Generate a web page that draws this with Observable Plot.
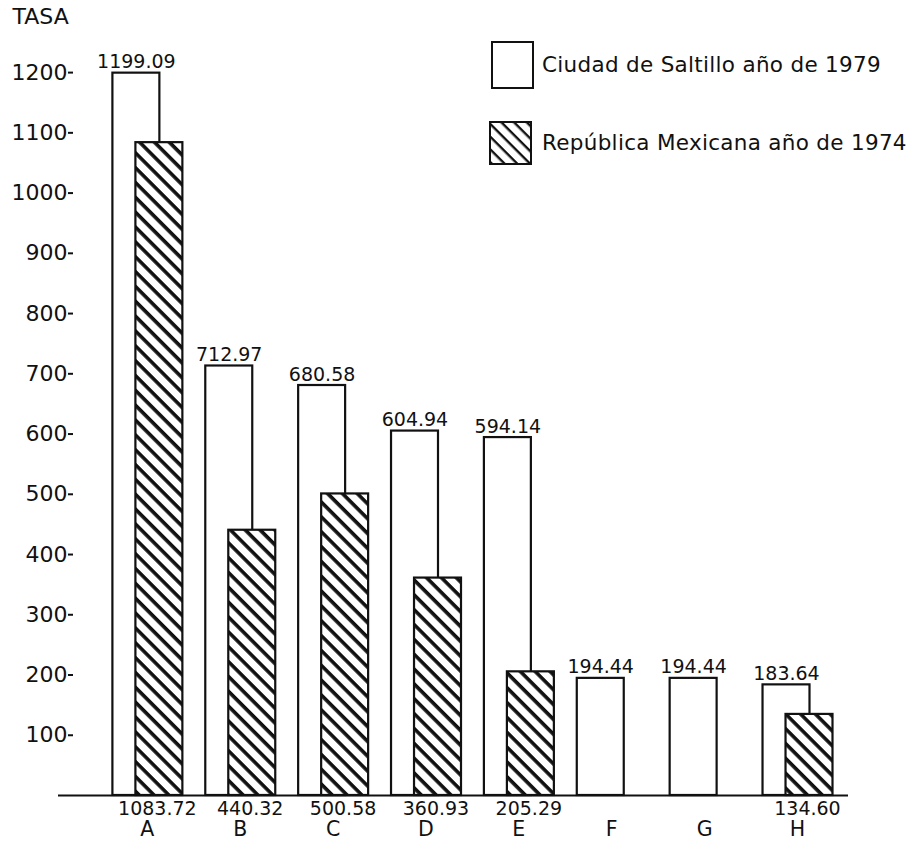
<!DOCTYPE html>
<html>
<head>
<meta charset="utf-8">
<script src="https://cdn.jsdelivr.net/npm/d3@7"></script>
<script src="https://cdn.jsdelivr.net/npm/@observablehq/plot@0.6"></script>
<style>
  html, body { margin: 0; padding: 0; background: #fff; }
  #wrap { position: relative; width: 913px; height: 843px; font-family: "DejaVu Sans", sans-serif; color: #111; }
  #wrap svg.plot { position: absolute; left: 0; top: 0; }
  .leg-text { position: absolute; font-size: 21.5px; line-height: 22px; white-space: nowrap; color: #111; letter-spacing: 0.3px; }
  .leg-box { position: absolute; }
</style>
</head>
<body>
<div id="wrap"></div>
<script>
// ---- data ----
const categories = ["A", "B", "C", "D", "E", "F", "G", "H"];
const saltillo1979 = [1199.09, 712.97, 680.58, 604.94, 594.14, 194.44, 194.44, 183.64];
const mexico1974 = [1083.72, 440.32, 500.58, 360.93, 205.29, null, null, 134.60];
const seriesNames = ["Ciudad de Saltillo año de 1979", "República Mexicana año de 1974"];
const yTicks = [100, 200, 300, 400, 500, 600, 700, 800, 900, 1000, 1100, 1200];
const yTitle = "TASA";

const rows = categories.map((c, i) => ({cat: c, salt: saltillo1979[i], mex: mexico1974[i]}));
const mexRows = rows.filter(d => d.mex != null);

const ink = "#111";

const chart = Plot.plot({
  width: 913,
  height: 843,
  marginLeft: 73,
  marginRight: 65,
  marginTop: 48,
  marginBottom: 26,
  style: {fontFamily: "DejaVu Sans, sans-serif", color: ink, background: "transparent"},
  x: {type: "band", domain: categories, range: [100.4, 843.4], padding: 0, round: false, label: null},
  y: {domain: [0, 1240], range: [795, 48], label: null},
  marks: [
    Plot.axisY(yTicks, {tickSize: 5, tickPadding: 1, fontSize: 22, line: true, strokeWidth: 2, stroke: ink, tickFormat: d => String(d), label: null}),
    Plot.axisX({tickSize: 0, tickPadding: 4, fontSize: 20.5, label: null}),
    Plot.barY(rows, {x: "cat", y: "salt", fill: "white", stroke: ink, strokeWidth: 2.2, insetLeft: 12, insetRight: 33.9}),
    Plot.barY(mexRows, {x: "cat", y: "mex", fill: "url(#hatch)", stroke: ink, strokeWidth: 2.2, insetLeft: 35, insetRight: 10.9}),
    Plot.ruleY([0], {stroke: ink, strokeWidth: 2.2, insetLeft: -15}),
    Plot.text(rows, {x: "cat", y: "salt", text: d => d.salt.toFixed(2), dx: -11, dy: -5, lineAnchor: "bottom", fontSize: 19, fill: ink}),
    Plot.text(mexRows, {x: "cat", y: () => 0, text: d => d.mex.toFixed(2), dx: 10, dy: 6, lineAnchor: "top", fontSize: 19, fill: ink}),
    Plot.text([yTitle], {frameAnchor: "top-left", dx: -61, dy: -40, textAnchor: "start", lineAnchor: "top", fontSize: 22, fill: ink})
  ]
});
chart.classList.add("plot");

// hatch pattern
const defs = d3.select(chart).insert("defs", ":first-child");
const pat = defs.append("pattern")
  .attr("id", "hatch")
  .attr("patternUnits", "userSpaceOnUse")
  .attr("width", 10.5).attr("height", 10.5)
  .attr("patternTransform", "rotate(45)");
pat.append("rect").attr("width", 10.5).attr("height", 10.5).attr("fill", "white");
pat.append("rect").attr("width", 10.5).attr("height", 3.6).attr("fill", ink);

const wrap = document.getElementById("wrap");
wrap.appendChild(chart);

// legend
const legendItems = [
  {name: seriesNames[0], fill: "white", box: [491, 41, 42, 47], textTop: 54},
  {name: seriesNames[1], fill: "url(#hatchLeg)", box: [489, 121, 42, 43], textTop: 132}
];
legendItems.forEach((it, i) => {
  const [bx, by, bw, bh] = it.box;
  const svg = d3.create("svg")
    .attr("class", "leg-box")
    .attr("width", bw + 2).attr("height", bh + 2)
    .style("left", bx + "px").style("top", by + "px");
  if (i === 1) {
    const p = svg.append("defs").append("pattern")
      .attr("id", "hatchLeg")
      .attr("patternUnits", "userSpaceOnUse")
      .attr("width", 9).attr("height", 9)
      .attr("patternTransform", "rotate(45)");
    p.append("rect").attr("width", 9).attr("height", 9).attr("fill", "white");
    p.append("rect").attr("width", 9).attr("height", 2.4).attr("fill", ink);
  }
  svg.append("rect").attr("x", 1).attr("y", 1).attr("width", bw - 1).attr("height", bh - 1)
    .attr("fill", it.fill).attr("stroke", ink).attr("stroke-width", 2);
  wrap.appendChild(svg.node());
  const t = document.createElement("div");
  t.className = "leg-text";
  t.textContent = it.name;
  t.style.left = "542px";
  t.style.top = it.textTop + "px";
  wrap.appendChild(t);
});
</script>
</body>
</html>
